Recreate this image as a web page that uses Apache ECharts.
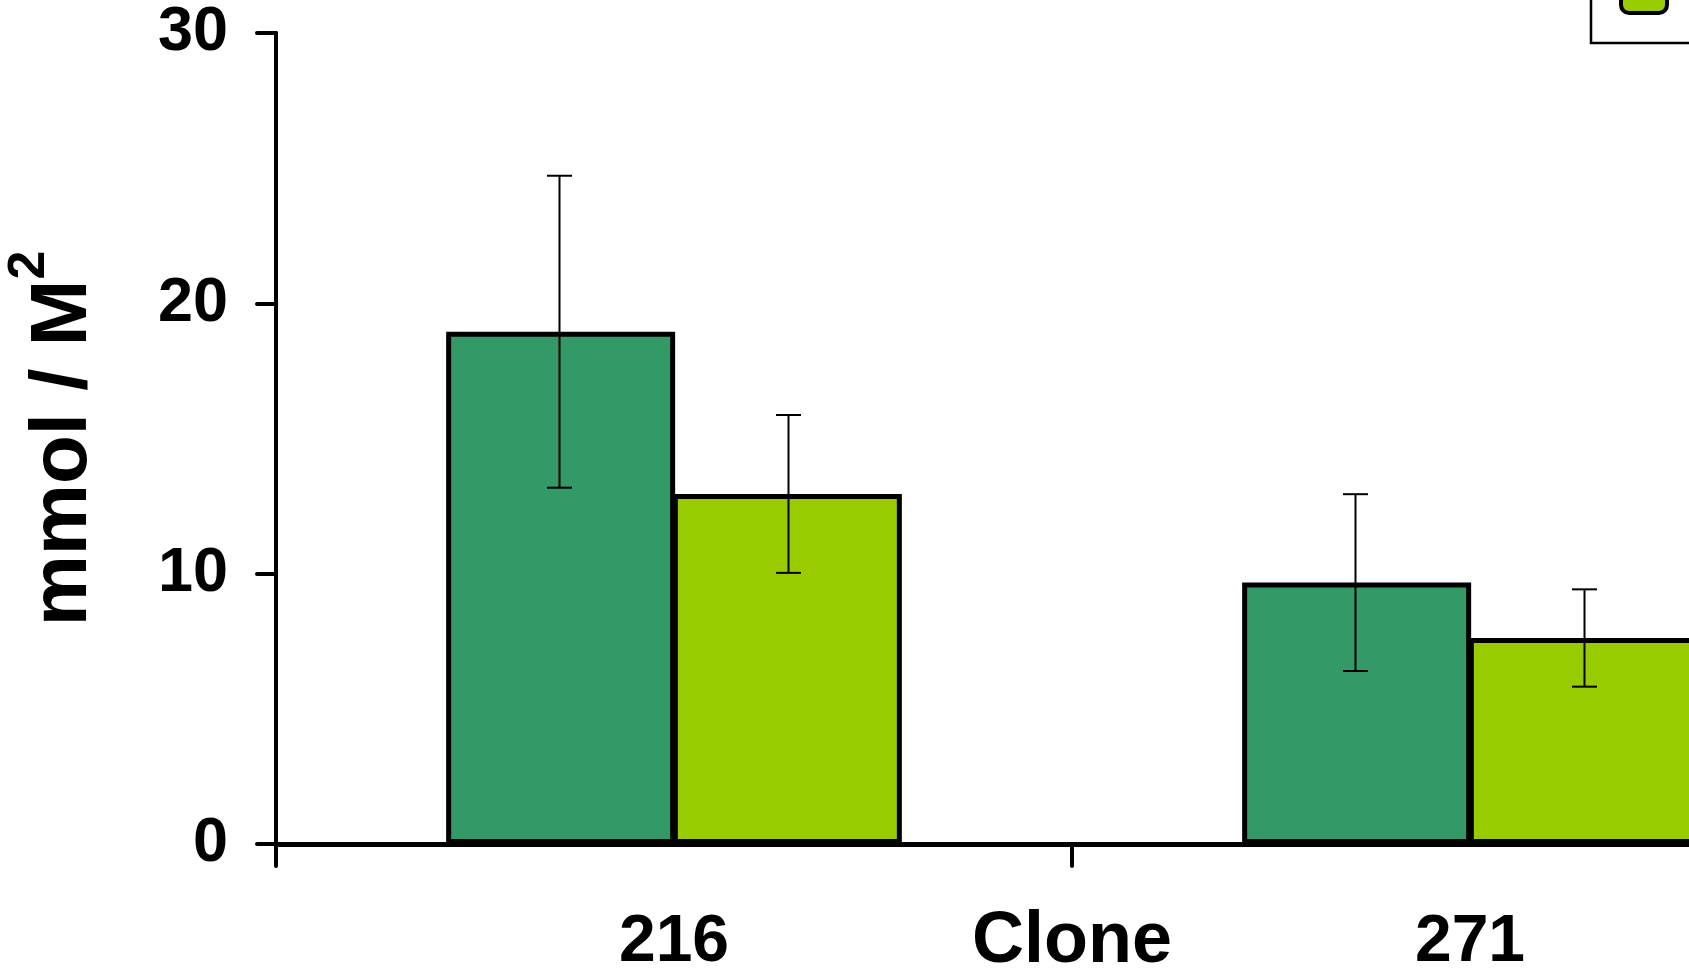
<!DOCTYPE html>
<html>
<head>
<meta charset="utf-8">
<script src="https://cdn.jsdelivr.net/npm/echarts@6/dist/echarts.min.js"></script>
<style>
html,body{margin:0;padding:0;background:#fff;}
#chart{width:1689px;height:974px;}
</style>
</head>
<body>
<div id="chart"></div>
<script>
// ---- data ----
const categories = ['216', '271'];
const seriesNames = ['Control', 'Treated'];
const darkValues = [18.95, 9.67];
const darkErrors = [5.77, 3.27];
const lightValues = [12.95, 7.62];
const lightErrors = [2.92, 1.80];
const yTicks = [0, 10, 20, 30];

// ---- styling constants ----
const FONT = '"Liberation Sans", Arial, sans-serif';
const BAR_W = 229;
const DARK = '#339966';
const LIGHT = '#99CC00';

function errData(vals, errs) {
  return vals.map((v, i) => [i, v - errs[i], v + errs[i]]);
}

function errRenderer(offset) {
  return function (params, api) {
    const cx = api.coord([api.value(0), 0])[0] + offset;
    const yLo = api.coord([api.value(0), api.value(1)])[1];
    const yHi = api.coord([api.value(0), api.value(2)])[1];
    const half = 12.5;
    const st = { stroke: '#000', lineWidth: 2 };
    return {
      type: 'group',
      children: [
        { type: 'line', shape: { x1: cx, y1: yHi, x2: cx, y2: yLo }, style: st },
        { type: 'line', shape: { x1: cx - half, y1: yHi, x2: cx + half, y2: yHi }, style: st },
        { type: 'line', shape: { x1: cx - half, y1: yLo, x2: cx + half, y2: yLo }, style: st }
      ]
    };
  };
}

const chart = echarts.init(document.getElementById('chart'), null, { renderer: 'canvas' });
chart.setOption({
  animation: false,
  backgroundColor: '#fff',
  grid: { left: 276, top: 33, width: 1592, height: 811, containLabel: false, outerBoundsMode: 'none' },
  legend: {
    orient: 'vertical',
    left: 1591,
    top: -97,
    padding: [20, 10, 28, 28],
    itemGap: 20,
    itemWidth: 46,
    itemHeight: 32,
    borderColor: '#000',
    borderWidth: 2.5,
    data: seriesNames,
    itemStyle: { borderColor: '#000', borderWidth: 4 },
    textStyle: { fontFamily: FONT, fontWeight: 'bold', fontSize: 28, color: '#000', padding: [0, 0, 0, 30] }
  },
  xAxis: {
    type: 'category',
    data: categories,
    name: 'Clone',
    nameLocation: 'middle',
    nameGap: 62,
    nameMoveOverlap: false,
    nameTextStyle: { fontFamily: FONT, fontWeight: 'bold', fontSize: 72, color: '#000' },
    axisLine: { lineStyle: { color: '#000', width: 5, cap: 'round' } },
    axisTick: { show: true, length: 22, alignWithLabel: false, lineStyle: { color: '#000', width: 4, cap: 'round' } },
    axisLabel: { margin: 66, fontFamily: FONT, fontWeight: 'bold', fontSize: 66, color: '#000' },
    splitLine: { show: false }
  },
  yAxis: {
    type: 'value',
    min: yTicks[0],
    max: yTicks[yTicks.length - 1],
    interval: 10,
    name: '{a|mmol / M}{s|2}',
    nameLocation: 'middle',
    nameGap: 172,
    nameMoveOverlap: false,
    nameTextStyle: {
      color: '#000',
      rich: {
        a: { fontFamily: FONT, fontWeight: 'bold', fontSize: 80, color: '#000', lineHeight: 100, verticalAlign: 'bottom' },
        s: { fontFamily: FONT, fontWeight: 'bold', fontSize: 52, color: '#000', lineHeight: 52, verticalAlign: 'top' }
      }
    },
    axisLine: { show: true, lineStyle: { color: '#000', width: 4, cap: 'round' } },
    axisTick: { show: true, length: 19, lineStyle: { color: '#000', width: 4, cap: 'round' } },
    axisLabel: { margin: 48, fontFamily: FONT, fontWeight: 'bold', fontSize: 63, color: '#000' },
    splitLine: { show: false }
  },
  series: [
    {
      name: seriesNames[0], type: 'bar', data: darkValues, barWidth: BAR_W, barGap: '-1%',
      itemStyle: { color: DARK, borderColor: '#000', borderWidth: 5 }
    },
    {
      name: seriesNames[1], type: 'bar', data: lightValues, barWidth: BAR_W, barGap: '-1%',
      itemStyle: { color: LIGHT, borderColor: '#000', borderWidth: 5 }
    },
    {
      type: 'custom', name: 'errDark', data: errData(darkValues, darkErrors),
      encode: { x: 0, y: [1, 2] }, renderItem: errRenderer(-BAR_W / 2), z: 10, silent: true
    },
    {
      type: 'custom', name: 'errLight', data: errData(lightValues, lightErrors),
      encode: { x: 0, y: [1, 2] }, renderItem: errRenderer(BAR_W / 2), z: 10, silent: true
    }
  ]
});
</script>
</body>
</html>
